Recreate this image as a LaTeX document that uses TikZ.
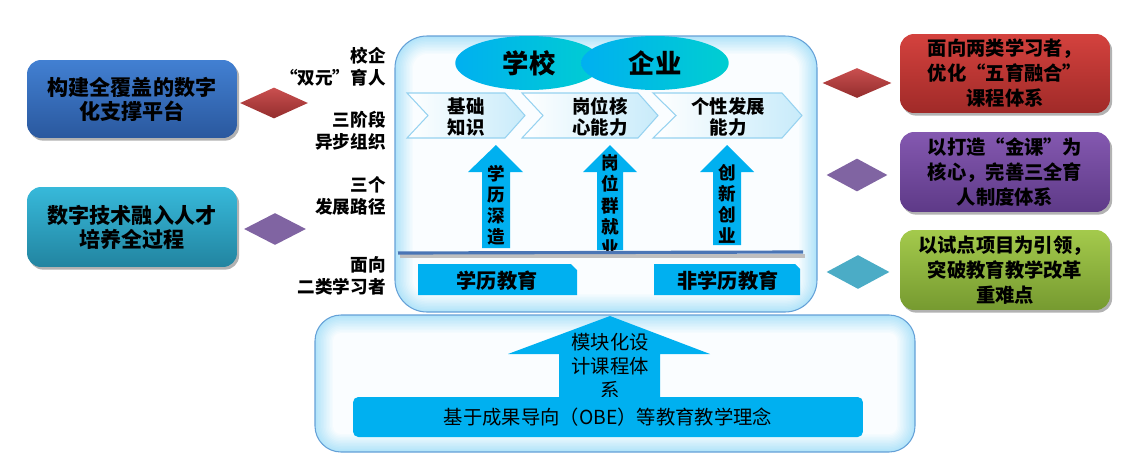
\documentclass[tikz,border=0pt]{standalone}
\usepackage{fontspec}
\setmainfont{Noto Sans CJK SC}
\usetikzlibrary{shapes.geometric,shadows}
\definecolor{sky}{RGB}{0,176,240}
\definecolor{turq}{RGB}{0,206,209}
\definecolor{glowc}{RGB}{178,228,249}
\definecolor{glowin}{RGB}{250,253,255}
\definecolor{borderc}{RGB}{100,160,215}
\definecolor{chevb}{RGB}{150,210,240}
\definecolor{chevf}{RGB}{200,235,250}
\definecolor{lineb}{RGB}{74,117,181}
\definecolor{bluetop}{RGB}{66,128,210}
\definecolor{bluebot}{RGB}{42,88,158}
\definecolor{tealtop}{RGB}{55,185,218}
\definecolor{tealbot}{RGB}{34,132,160}
\definecolor{redtop}{RGB}{212,66,62}
\definecolor{redbot}{RGB}{160,42,40}
\definecolor{purtop}{RGB}{132,88,176}
\definecolor{purbot}{RGB}{94,58,136}
\definecolor{grntop}{RGB}{164,202,76}
\definecolor{grnbot}{RGB}{118,154,48}
\definecolor{diared}{RGB}{196,60,60}
\definecolor{diapur}{RGB}{128,100,162}
\definecolor{diateal}{RGB}{75,172,198}
\newcommand\glowbox[5]{%
  \foreach \gi in {0,...,12}{%
    \pgfmathtruncatemacro\gc{100-\gi*100/12}%
    \pgfmathsetmacro\gd{\gi*1.5}%
    \pgfmathsetmacro\gr{max(#5-\gd,3)*0.569}%
    \fill[glowc!\gc!glowin, rounded corners=\gr pt] (#1+\gd,#2+\gd) rectangle (#3-\gd,#4-\gd);
  }%
  \pgfmathsetmacro\gr{#5*0.569}%
  \draw[line width=0.6pt, color=borderc, rounded corners=\gr pt] (#1,#2) rectangle (#3,#4);
}
\tikzset{
  sidebox/.style={rounded corners=8pt, minimum width=4.2cm, align=center, inner sep=2pt,
    drop shadow={shadow xshift=1.2pt, shadow yshift=-1.5pt, opacity=0.3, fill=black}},
  lfont/.style={font=\bfseries\fontsize{12}{13.7}\selectfont},
  rfont/.style={font=\bfseries\fontsize{11}{14.2}\selectfont},
  dia/.style={diamond, inner sep=0pt, draw=none},
  lab/.style={anchor=east, align=right, inner sep=0pt, font=\bfseries\fontsize{10}{12.5}\selectfont},
  ell/.style={ellipse, inner sep=0pt, left color=sky, right color=turq, minimum width=2.95cm, minimum height=1.08cm,
    font=\bfseries\fontsize{15}{16}\selectfont},
  chev/.style={left color=white, right color=chevf, draw=chevb, line width=0.6pt},
  chevtext/.style={align=center, inner sep=0pt, font=\bfseries\fontsize{10.5}{12}\selectfont},
  uparrow/.style={fill=sky},
  vtext/.style={align=center, inner sep=0pt, font=\bfseries\fontsize{10}{12}\selectfont},
  eduf/.style={inner sep=0pt, font=\bfseries\fontsize{11.5}{13}\selectfont},
  plain/.style={align=center, inner sep=0pt, font=\fontsize{11}{13.6}\selectfont}
}
\begin{document}
\begin{tikzpicture}[x=0.02cm,y=-0.02cm]
\useasboundingbox (0,0) rectangle (1137,474);

% ---------- left boxes ----------
\node[sidebox, lfont, top color=bluetop, bottom color=bluebot, minimum height=1.56cm] (lb1) at (132,99)
  {构建全覆盖的数字\\化支撑平台};
\node[sidebox, lfont, top color=tealtop, bottom color=tealbot, minimum height=1.6cm] (lb2) at (132,227)
  {数字技术融入人才\\培养全过程};
\node[dia, top color=diared!90!white, bottom color=diared!75!black, minimum width=1.36cm, minimum height=0.62cm] (ld1) at (274,103) {};
\node[dia, fill=diapur, minimum width=1.24cm, minimum height=0.64cm] (ld2) at (275,229) {};

% ---------- right boxes ----------
\node[sidebox, rfont, top color=redtop, bottom color=redbot, minimum height=1.58cm] (rb1) at (1005,73.5)
  {面向两类学习者，\\优化“五育融合”\\课程体系};
\node[sidebox, rfont, top color=purtop, bottom color=purbot, minimum height=1.6cm] (rb2) at (1005,172)
  {以打造“金课”为\\核心，完善三全育\\人制度体系};
\node[sidebox, rfont, top color=grntop, bottom color=grnbot, minimum height=1.6cm] (rb3) at (1005,270)
  {以试点项目为引领，\\突破教育教学改革\\重难点};
\node[dia, top color=diared!90!white, bottom color=diared!75!black, minimum width=1.38cm, minimum height=0.6cm] (rd1) at (857,83) {};
\node[dia, fill=diapur, minimum width=1.22cm, minimum height=0.66cm] (rd2) at (857,175) {};
\node[dia, fill=diateal, minimum width=1.26cm, minimum height=0.68cm] (rd3) at (858,272) {};

% ---------- left labels ----------
\node[lab] (l1) at (386,67) {校企\\“双元”育人};
\node[lab] (l2) at (386,131) {三阶段\\异步组织};
\node[lab] (l3) at (386,195.5) {三个\\发展路径};
\node[lab] (l4) at (386,276) {面向\\二类学习者};

% ---------- main box ----------
\glowbox{395}{36}{817}{312}{32}

\node[ell] (school) at (529,63) {学校};
\node[ell] (firm) at (655,63) {企业};

\path[chev] (407,93) -- (505,93) -- (525,115.5) -- (505,138) -- (407,138) -- (428,115.5) -- cycle;
\path[chev] (522,93) -- (638,93) -- (658,115.5) -- (638,138) -- (522,138) -- (543,115.5) -- cycle;
\path[chev] (653,93) -- (782,93) -- (802,115.5) -- (782,138) -- (653,138) -- (676,115.5) -- cycle;
\node[chevtext] (c1) at (466,117) {基础\\知识};
\node[chevtext] (c2) at (600,117) {岗位核\\心能力};
\node[chevtext] (c3) at (728,117) {个性发展\\能力};

\fill[uparrow] (496,145) -- (523,172) -- (510,172) -- (510,248) -- (482,248) -- (482,172) -- (468,172) -- cycle;
\fill[uparrow] (610,145) -- (637,172) -- (623,172) -- (623,250) -- (597,250) -- (597,172) -- (583,172) -- cycle;
\fill[uparrow] (727,145) -- (754,172) -- (741,172) -- (741,245) -- (713,245) -- (713,172) -- (700,172) -- cycle;
\node[vtext] (a1) at (496,205) {学\\历\\深\\造};
\node[vtext] (a2) at (610,205) {岗\\位\\群\\就\\业};
\node[vtext] (a3) at (727,204) {创\\新\\创\\业};

\draw[black!25, line width=2pt] (400,256) -- (805,256);
\draw[lineb, line width=1.8pt] (398,253) -- (803,252);

\fill[sky] (418,264) -- (571,264) -- (577,270) -- (577,295) -- (418,295) -- cycle;
\fill[sky] (654,264) -- (795,264) -- (800,269) -- (800,295) -- (654,295) -- cycle;
\node[eduf] (e1) at (497,281) {学历教育};
\node[eduf] (e2) at (728,281) {非学历教育};

% ---------- lower box ----------
\glowbox{315}{315}{915}{452}{26}
\fill[sky] (610,316) -- (710,354) -- (660,354) -- (660,397) -- (559,397) -- (559,354) -- (508,354) -- cycle;
\node[plain] (mt) at (610,366) {模块化设\\计课程体\\系};
\node[fill=sky, rounded corners=3pt, minimum width=10.2cm, minimum height=0.8cm, inner sep=0pt,
  font=\fontsize{11}{13}\selectfont] (bar) at (608,417) {基于成果导向（OBE）等教育教学理念};
\end{tikzpicture}
\end{document}
